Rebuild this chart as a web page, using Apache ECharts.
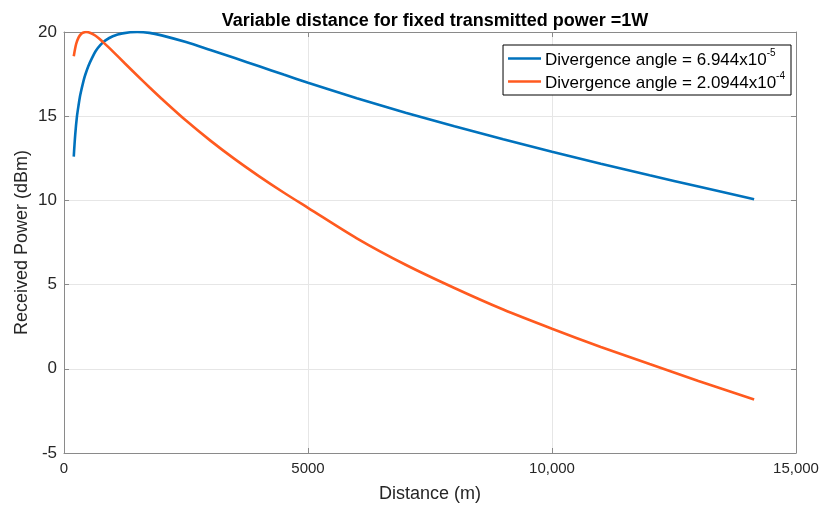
<!DOCTYPE html>
<html>
<head>
<meta charset="utf-8">
<script src="https://cdn.jsdelivr.net/npm/echarts@6/dist/echarts.min.js"></script>
<style>html,body{margin:0;padding:0;background:#fff;}#c{width:824px;height:512px;}</style>
</head>
<body>
<div id="c"></div>
<script>
const titleText = 'Variable distance for fixed transmitted power =1W';
const xName = 'Distance (m)';
const yName = 'Received Power (dBm)';
const xTickLabels = {0: '0', 5000: '5000', 10000: '10,000', 15000: '15,000'};
const yTicks = [-5, 0, 5, 10, 15, 20];

const seriesNames = ['Divergence angle = 6.944x10-5', 'Divergence angle = 2.0944x10-4'];
const legendMain = ['Divergence angle = 6.944x10', 'Divergence angle = 2.0944x10'];
const legendSup = ['-5', '-4'];

const blueDist = [200, 230, 266, 300, 334, 400, 436, 500, 573, 650, 743, 850, 1000, 1200, 1500, 1750, 2000, 2500, 3000, 3500, 4000, 4500, 5000, 6000, 7000, 8000, 9000, 10000, 11000, 12000, 13000, 14142];
const blueVals = [12.6, 13.9, 15.0, 15.68, 16.27, 17.1, 17.46, 17.98, 18.45, 18.87, 19.22, 19.5, 19.75, 19.92, 20.0, 19.95, 19.8, 19.4, 18.93, 18.45, 17.96, 17.47, 16.99, 16.07, 15.21, 14.4, 13.63, 12.89, 12.18, 11.49, 10.82, 10.07];

const orangeDist = [200, 250, 300, 350, 400, 450, 500, 600, 700, 800, 900, 1000, 1250, 1500, 1750, 2000, 2500, 3000, 3500, 4000, 4500, 5000, 6000, 7000, 8000, 9000, 10000, 11000, 12000, 13000, 14142];
const orangeVals = [18.56, 19.3, 19.68, 19.88, 19.97, 20.0, 19.98, 19.86, 19.66, 19.4, 19.13, 18.85, 18.13, 17.42, 16.72, 16.04, 14.74, 13.55, 12.45, 11.43, 10.47, 9.56, 7.75, 6.18, 4.8, 3.52, 2.38, 1.3, 0.28, -0.72, -1.82];

const colors = ['#0072BD', '#FF5A1F'];
const font = 'Liberation Sans, Arial, sans-serif';

function pairs(xs, ys) { return xs.map((x, i) => [x, ys[i]]); }

const chart = echarts.init(document.getElementById('c'), null, {renderer: 'canvas'});
const axisCommon = {
  axisLine: {show: true, onZero: false, lineStyle: {color: '#8a8a8a', width: 1}},
  axisTick: {show: true, inside: true, length: 5, lineStyle: {color: '#8a8a8a'}},
};
chart.setOption({
  animation: false,
  backgroundColor: '#ffffff',
  title: {
    text: titleText, left: 430, top: 7, textAlign: 'center',
    textStyle: {fontFamily: font, fontSize: 18, fontWeight: 'bold', color: '#000'}
  },
  grid: {left: 64, right: 28, top: 32, bottom: 59, show: false},
  legend: {
    right: 33, top: 45, orient: 'vertical',
    backgroundColor: '#fff', borderColor: '#000', borderWidth: 1,
    padding: [3, 6, 3, 5], itemGap: 2,
    icon: 'rect', itemWidth: 33, itemHeight: 2.5,
    data: seriesNames,
    formatter: function (name) {
      const i = seriesNames.indexOf(name);
      return '{m|' + legendMain[i] + '}{s|' + legendSup[i] + '}';
    },
    textStyle: {
      padding: [0, 0, 0, -1],
      rich: {
        m: {fontFamily: font, fontSize: 17, color: '#000', padding: [4, 0, 0, 0]},
        s: {fontFamily: font, fontSize: 10, color: '#000', verticalAlign: 'top', padding: [0, 0, 9, 0]}
      }
    }
  },
  xAxis: [{
    type: 'value', min: 0, max: 15000, interval: 5000, position: 'bottom',
    name: xName, nameLocation: 'middle', nameGap: 32, nameMoveOverlap: false,
    nameTextStyle: {fontFamily: font, fontSize: 18, color: '#262626'},
    axisLabel: {
      margin: 8, fontFamily: font, fontSize: 15, color: '#262626',
      formatter: v => xTickLabels[v] !== undefined ? xTickLabels[v] : ''
    },
    splitLine: {show: true, lineStyle: {color: '#e6e6e6', width: 1}},
    ...axisCommon
  }, {
    type: 'value', min: 0, max: 15000, interval: 5000, position: 'top',
    axisLabel: {show: false}, splitLine: {show: false}, ...axisCommon
  }],
  yAxis: [{
    type: 'value', min: yTicks[0], max: yTicks[yTicks.length - 1], interval: 5, position: 'left',
    name: yName, nameLocation: 'middle', nameGap: 33, nameMoveOverlap: false,
    nameTextStyle: {fontFamily: font, fontSize: 18, color: '#262626'},
    axisLabel: {margin: 7, fontFamily: font, fontSize: 17, color: '#262626'},
    splitLine: {show: true, lineStyle: {color: '#e6e6e6', width: 1}},
    ...axisCommon
  }, {
    type: 'value', min: yTicks[0], max: yTicks[yTicks.length - 1], interval: 5, position: 'right',
    axisLabel: {show: false}, splitLine: {show: false}, ...axisCommon
  }],
  series: [{
    name: seriesNames[0], type: 'line', data: pairs(blueDist, blueVals),
    showSymbol: false, smooth: 0.3, color: colors[0],
    lineStyle: {width: 2.6, color: colors[0]}, z: 3
  }, {
    name: seriesNames[1], type: 'line', data: pairs(orangeDist, orangeVals),
    showSymbol: false, smooth: 0.3, color: colors[1],
    lineStyle: {width: 2.6, color: colors[1]}, z: 4
  }]
});
</script>
</body>
</html>
